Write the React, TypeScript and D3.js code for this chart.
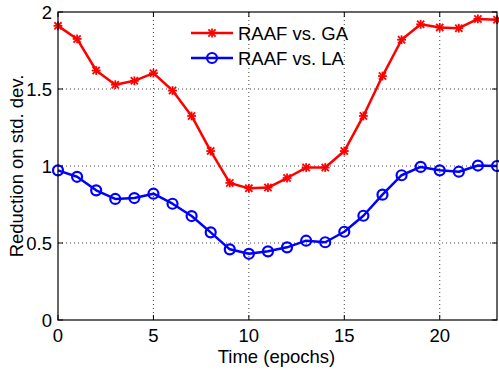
import React from "react";
import * as d3 from "d3";

const epochs = d3.range(0, 24);
const raafVsGA = [1.91, 1.825, 1.62, 1.528, 1.553, 1.603, 1.49, 1.325, 1.097, 0.89, 0.855, 0.86, 0.922, 0.99, 0.99, 1.097, 1.325, 1.584, 1.82, 1.92, 1.90, 1.895, 1.955, 1.95];
const raafVsLA = [0.972, 0.93, 0.842, 0.786, 0.792, 0.82, 0.755, 0.675, 0.569, 0.459, 0.43, 0.446, 0.472, 0.515, 0.505, 0.573, 0.677, 0.814, 0.94, 0.994, 0.972, 0.963, 1.003, 1.0];
const xTicks = [0, 5, 10, 15, 20];
const yTicks = [0, 0.5, 1, 1.5, 2];
const legendLabels = ["RAAF vs. GA", "RAAF vs. LA"];

const W = 499, H = 370;
const L = 58, R = 497, T = 12, B = 320;
const FONT = "'Liberation Sans', Arial, sans-serif";

export default function App() {
  const x = d3.scaleLinear().domain([0, 23]).range([L, R]);
  const y = d3.scaleLinear().domain([0, 2]).range([B, T]);
  const line = d3.line<number>().x((_, i) => x(epochs[i])).y((d) => y(d));
  const tk = 5;

  const star = (cx: number, cy: number, k: string, s = 3.6) => (
    <g key={k} stroke="#ff0000" strokeWidth={1.8}>
      <line x1={cx - s} y1={cy - s} x2={cx + s} y2={cy + s} />
      <line x1={cx - s} y1={cy + s} x2={cx + s} y2={cy - s} />
      <line x1={cx} y1={cy - s - 0.8} x2={cx} y2={cy + s + 0.8} />
      <line x1={cx - s - 0.8} y1={cy} x2={cx + s + 0.8} y2={cy} />
    </g>
  );

  return (
    <svg width={W} height={H} style={{ position: "absolute", left: 0, top: 0, background: "#fff" }} fontFamily={FONT}>
      <rect x={0} y={0} width={W} height={H} fill="#fff" />
      {/* grid */}
      {xTicks.filter((t) => t > 0).map((t) => (
        <line key={"gx" + t} x1={x(t)} x2={x(t)} y1={T} y2={B} stroke="#444" strokeWidth={1} strokeDasharray="1 3" />
      ))}
      {yTicks.filter((t) => t > 0 && t < 2).map((t) => (
        <line key={"gy" + t} x1={L} x2={R} y1={y(t)} y2={y(t)} stroke="#444" strokeWidth={1} strokeDasharray="1 3" />
      ))}
      {/* ticks */}
      {xTicks.map((t) => (
        <g key={"tx" + t} stroke="#000" strokeWidth={1}>
          <line x1={x(t)} x2={x(t)} y1={B} y2={B - tk} />
          <line x1={x(t)} x2={x(t)} y1={T} y2={T + tk} />
        </g>
      ))}
      {yTicks.map((t) => (
        <g key={"ty" + t} stroke="#000" strokeWidth={1}>
          <line x1={L} x2={L + tk} y1={y(t)} y2={y(t)} />
          <line x1={R} x2={R - tk} y1={y(t)} y2={y(t)} />
        </g>
      ))}
      {/* lines */}
      <path d={line(raafVsGA) || ""} fill="none" stroke="#ff0000" strokeWidth={2.5} strokeLinejoin="round" />
      {raafVsGA.map((v, i) => star(x(epochs[i]), y(v), "s" + i))}
      <path d={line(raafVsLA) || ""} fill="none" stroke="#0000ff" strokeWidth={2.5} strokeLinejoin="round" />
      {raafVsLA.map((v, i) => (
        <circle key={"c" + i} cx={x(epochs[i])} cy={y(v)} r={5} fill="none" stroke="#0000ff" strokeWidth={2.2} />
      ))}
      {/* box */}
      <rect x={L} y={T} width={R - L} height={B - T} fill="none" stroke="#000" strokeWidth={1.2} />
      {/* tick labels */}
      {xTicks.map((t) => (
        <text key={"lx" + t} x={x(t)} y={342} textAnchor="middle" fontSize={18.5} fill="#000">{t}</text>
      ))}
      {yTicks.map((t) => (
        <text key={"ly" + t} x={52} y={y(t) + 6.5} textAnchor="end" fontSize={18.5} fill="#000">{t}</text>
      ))}
      <text x={(L + R) / 2 - 1} y={363} textAnchor="middle" fontSize={18.5} fill="#000">Time (epochs)</text>
      <text transform={`translate(23,${(T + B) / 2}) rotate(-90)`} textAnchor="middle" fontSize={18.5} fill="#000">Reduction on std. dev.</text>
      {/* legend */}
      <g>
        <line x1={191} x2={233} y1={33} y2={33} stroke="#ff0000" strokeWidth={2.5} />
        {star(212, 33, "leg")}
        <text x={238} y={39.5} fontSize={18.5} fill="#000">{legendLabels[0]}</text>
        <line x1={191} x2={233} y1={58} y2={58} stroke="#0000ff" strokeWidth={2.5} />
        <circle cx={212} cy={58} r={5} fill="none" stroke="#0000ff" strokeWidth={2.2} />
        <text x={238} y={64.5} fontSize={18.5} fill="#000">{legendLabels[1]}</text>
      </g>
    </svg>
  );
}
